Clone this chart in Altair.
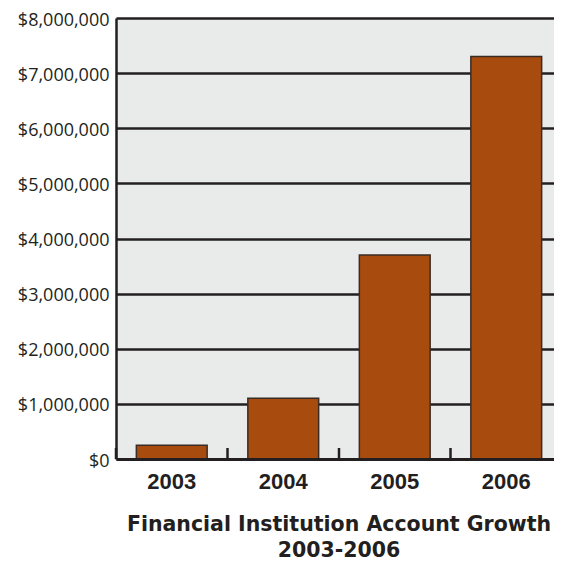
import altair as alt
import pandas as pd

years = ["2003", "2004", "2005", "2006"]
values = [250000, 1100000, 3700000, 7300000]
y_ticks = [0, 1000000, 2000000, 3000000, 4000000, 5000000, 6000000, 7000000, 8000000]

df = pd.DataFrame({"year": years, "value": values})

x_enc = alt.X("year:N", title=None,
              scale=alt.Scale(paddingInner=0, paddingOuter=0),
              axis=alt.Axis(labelFont="Liberation Sans", labelFontWeight="bold",
                            labelFontSize=22, labelColor="#231f20", labelAngle=0,
                            labelPadding=12, ticks=False, domainColor="#231f20",
                            domainWidth=3, zindex=1))
y_enc = alt.Y("value:Q", title=None,
              scale=alt.Scale(domain=[0, 8000000], nice=False),
              axis=alt.Axis(values=y_ticks, format="$,.0f", labelFont="Open Sans",
                            labelFontSize=18, labelColor="#231f20", labelPadding=7,
                            labelOffset=2,
                            ticks=False, gridColor="#231f20", gridWidth=2.5, gridOpacity=1,
                            domainColor="#231f20", domainWidth=2.5))

bars = alt.Chart(df).mark_bar(width={"band": 0.635}, color="#a84b0f",
                              stroke="#3a2c25", strokeWidth=1.5).encode(x=x_enc, y=y_enc)

ticks = alt.Chart(df).mark_rule(color="#231f20", strokeWidth=2.5).encode(
    x=alt.X("year:N", bandPosition=0),
    y=alt.value(441),
    y2=alt.value(430),
)

chart = alt.layer(bars, ticks).properties(
    width=446, height=441,
    title=alt.TitleParams(["Financial Institution Account Growth", "2003-2006"],
                          orient="bottom", font="DejaVu Sans", fontSize=20.5,
                          fontWeight="bold", color="#231f20", lineHeight=26,
                          offset=23, anchor="middle"),
    autosize=alt.AutoSizeParams(type="none"),
    padding={"left": 108, "top": 10, "right": -8, "bottom": 103},
).configure_view(fill="#e9eaea", stroke=None)

chart.save("out.html", embed_options={"renderer": "svg", "actions": False})
